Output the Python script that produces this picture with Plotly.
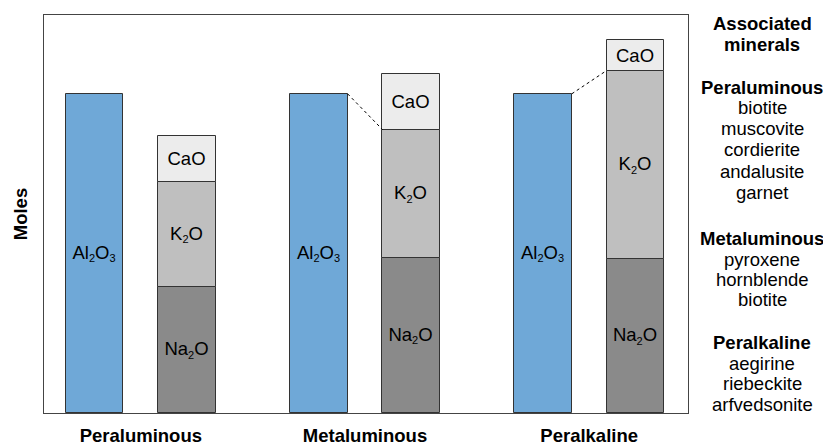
import plotly.graph_objects as go

# ---- data (arbitrary molar units, Al2O3 = 100) ----
groups = ["Peraluminous", "Metaluminous", "Peralkaline"]
group_pos = [0, 1, 2]
al2o3 = [100, 100, 100]
na2o = [39.4, 48.5, 48.1]
k2o = [33.1, 40.3, 59.2]
cao = [14.4, 17.4, 9.7]
connect = [False, True, True]  # dotted line Al2O3 top -> K2O top

side_lines = [
    ("Associated", True), ("minerals", True),
    ("Peraluminous", True), ("biotite", False), ("muscovite", False),
    ("cordierite", False), ("andalusite", False), ("garnet", False),
    ("Metaluminous", True), ("pyroxene", False), ("hornblende", False), ("biotite", False),
    ("Peralkaline", True), ("aegirine", False), ("riebeckite", False), ("arfvedsonite", False),
]
side_y_px = [23.5, 44, 86.7, 106.7, 128.3, 149, 170.7, 192.3,
             238.3, 259.3, 279.3, 299.3, 341.7, 363.3, 383.3, 404]

FONT = "Liberation Sans, Arial, Helvetica, sans-serif"
FS = 18.5
W = 0.2575
AL_OFF = -0.335
ST_OFF = 0.078
edge = dict(color="#333333", width=1)

PL, PR, PT, PB = 44, 688, 14.5, 412.7   # plot area in pixels
FIG_W, FIG_H = 823, 445

def sub(s):
    return f'<sub><span style="font-size:11px">{s}</span></sub>'

fig = go.Figure()

def bar(y, base, color, label, off):
    fig.add_trace(go.Bar(
        x=group_pos, y=y, base=base, offset=off, width=W,
        marker=dict(color=color, line=edge),
        text=[label] * len(group_pos), textposition="inside",
        insidetextanchor="middle", textangle=0, constraintext="none",
        textfont=dict(family=FONT, size=FS, color="black"),
        hoverinfo="skip", showlegend=False,
    ))

bar(al2o3, [0] * 3, "#6fa8d7", f"Al{sub(2)}O{sub(3)}", AL_OFF)
bar(na2o, [0] * 3, "#8a8a8a", f"Na{sub(2)}O", ST_OFF)
nk = [a + b for a, b in zip(na2o, k2o)]
bar(k2o, na2o, "#bfbfbf", f"K{sub(2)}O", ST_OFF)
bar(cao, nk, "#ececec", "CaO", ST_OFF)

for g, a, t, c in zip(group_pos, al2o3, nk, connect):
    if c:
        fig.add_trace(go.Scatter(
            x=[g + AL_OFF + W, g + ST_OFF], y=[a, t], mode="lines",
            line=dict(color="black", width=1, dash="dot"),
            hoverinfo="skip", showlegend=False,
        ))

for (txt, bold), ypx in zip(side_lines, side_y_px):
    fig.add_annotation(
        x=(762 - PL) / (PR - PL), y=(PB - ypx) / (PB - PT),
        xref="paper", yref="paper",
        text=f"<b>{txt}</b>" if bold else txt, showarrow=False,
        font=dict(family=FONT, size=FS, color="black"),
        xanchor="center", yanchor="middle",
    )

fig.update_layout(
    width=FIG_W, height=FIG_H,
    margin=dict(l=PL, r=FIG_W - PR, t=PT, b=FIG_H - PB, pad=0, autoexpand=False),
    paper_bgcolor="white", plot_bgcolor="white",
    barmode="overlay", bargap=0,
    font=dict(family=FONT, size=FS, color="black"),
    xaxis=dict(
        range=[-0.432, 2.441], tickvals=group_pos,
        ticktext=[f"<b>{g}</b>" for g in groups],
        tickfont=dict(family=FONT, size=FS, color="black"),
        showline=True, linecolor="#444444", linewidth=1, mirror=True,
        showgrid=False, zeroline=False, ticks="", ticklabelstandoff=6,
        automargin=False,
    ),
    yaxis=dict(
        range=[0, 124.7], showticklabels=False, ticks="",
        showline=True, linecolor="#444444", linewidth=1, mirror=True,
        showgrid=False, zeroline=False, automargin=False,
        title=dict(text="<b>Moles</b>", font=dict(family=FONT, size=FS, color="black"), standoff=10),
    ),
)

fig.write_html("out.html", config={"displayModeBar": False},
               post_script="document.body.style.margin='0';")
